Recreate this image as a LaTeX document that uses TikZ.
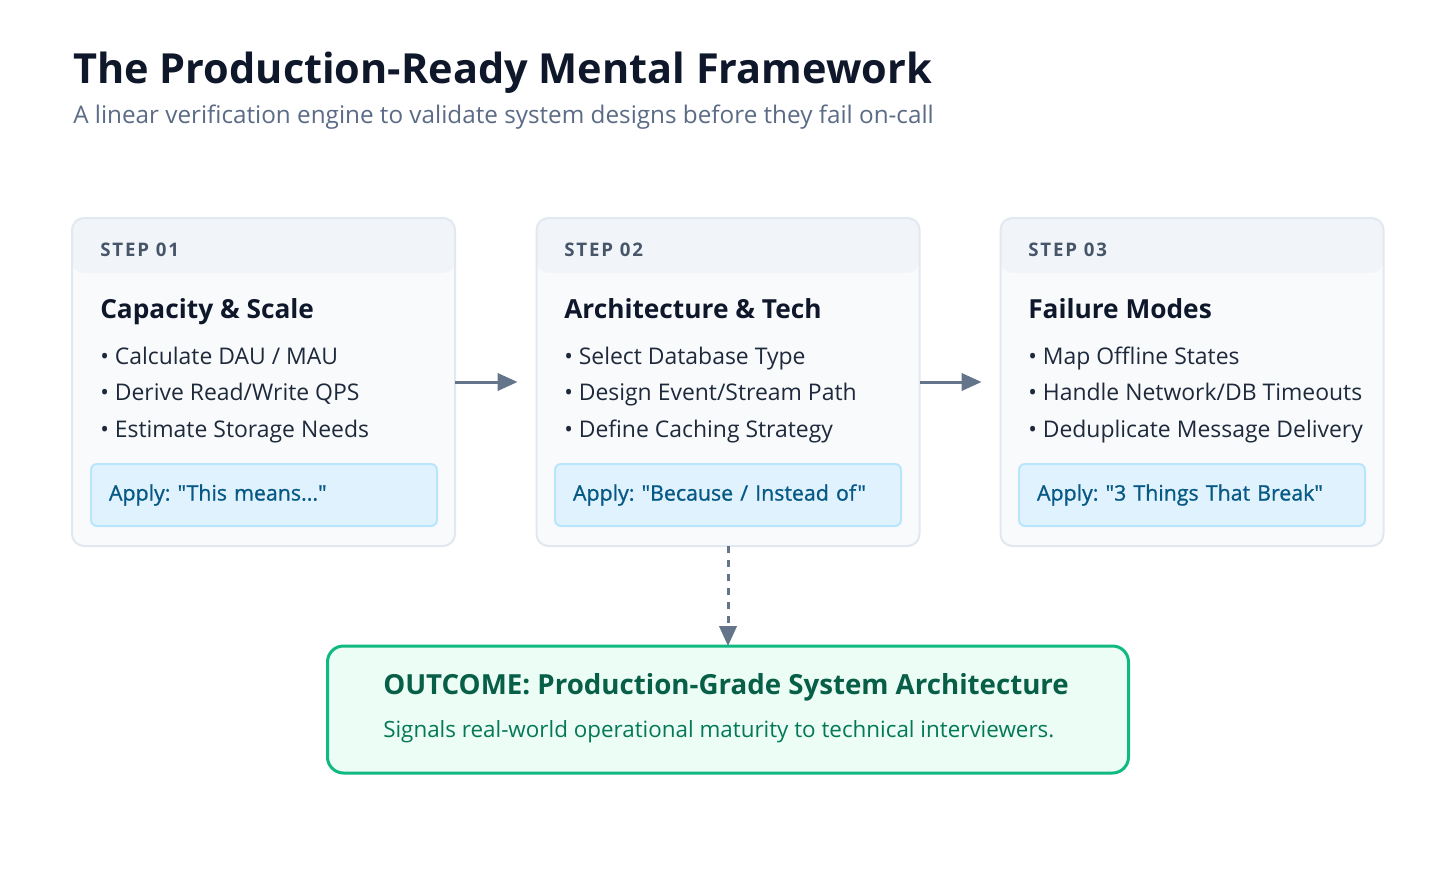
\documentclass[tikz,border=0pt]{standalone}
\usepackage{fontspec}
\setmainfont{Open Sans}[Ligatures=TeXOff]
\frenchspacing
\usetikzlibrary{arrows.meta,calc,positioning}
\definecolor{ink}{HTML}{0F172A}
\definecolor{subink}{HTML}{5B6B85}
\definecolor{steptext}{HTML}{475569}
\definecolor{bullettext}{HTML}{1E293B}
\definecolor{cardline}{HTML}{E2E8F0}
\definecolor{cardfill}{HTML}{F8FAFC}
\definecolor{headfill}{HTML}{F1F5F9}
\definecolor{applyfill}{HTML}{E0F2FE}
\definecolor{applyline}{HTML}{BAE6FD}
\definecolor{applytext}{HTML}{075985}
\definecolor{flowline}{HTML}{64748B}
\definecolor{outline}{HTML}{10B981}
\definecolor{outfill}{HTML}{ECFDF5}
\definecolor{outtext}{HTML}{065F46}
\definecolor{outsubtext}{HTML}{047857}
\begin{document}
\begin{tikzpicture}[x=0.75pt,y=-0.75pt]
        \tikzset{
          every node/.style={inner sep=0pt},
          card/.style={draw=cardline, fill=cardfill, line width=1.5pt, rounded corners=9pt,
            minimum width=287.25pt, minimum height=246pt, outer sep=0pt,
            path picture={\fill[headfill] (path picture bounding box.north west) rectangle
              ([yshift=-41.25pt]path picture bounding box.north east);}},
          stepno/.style={anchor=base west, text=steptext,
            font=\fontsize{14}{16}\selectfont\bfseries\addfontfeature{LetterSpace=10}},
          heading/.style={anchor=base west, text=ink, font=\fontsize{19.7}{24}\selectfont\bfseries},
          item/.style={anchor=base west, text=bullettext, font=\fontsize{17.2}{20}\selectfont},
          apply/.style={draw=applyline, fill=applyfill, line width=1.5pt, rounded corners=4.5pt,
            minimum width=259.5pt, minimum height=46.5pt, text width=232.5pt, align=left,
            inner xsep=13.5pt, outer sep=0pt, text=applytext,
            font=\fontsize{16}{19}\selectfont\addfontfeature{FakeBold=1}},
          flow/.style={draw=flowline, line width=2.25pt, -{Triangle[length=15pt,width=13pt]}},
        }
        \useasboundingbox[fill=white] (0,0) rectangle (1456,874);
        % title
        \node[anchor=base west, text=ink, font=\fontsize{31.1}{36}\selectfont\bfseries] (title) at (73,84)
          {The Production-Ready Mental Framework};
        \node[anchor=base west, text=subink, font=\fontsize{18.2}{22}\selectfont] (subtitle) at (73,123)
          {A linear verification engine to validate system designs before they fail on-call};
        % step 01
        \node[card] (card1) at (263.5,382) {};
        \node[stepno] (step1) at (100,256) {STEP 01};
        \node[heading] (head1) at (100,318) {Capacity \& Scale};
        \node[item] (b11) at (100,364) {• Calculate DAU / MAU};
        \node[item] (b12) at (100,400.5) {• Derive Read/Write QPS};
        \node[item] (b13) at (100,437) {• Estimate Storage Needs};
        \node[apply] (apply1) at (264,495) {Apply: "This means..."};
        % step 02
        \node[card] (card2) at (728,382) {};
        \node[stepno] (step2) at (564,256) {STEP 02};
        \node[heading] (head2) at (564,318) {Architecture \& Tech};
        \node[item] (b21) at (564,364) {• Select Database Type};
        \node[item] (b22) at (564,400.5) {• Design Event/Stream Path};
        \node[item] (b23) at (564,437) {• Define Caching Strategy};
        \node[apply] (apply2) at (728,495) {Apply: "Because / Instead of"};
        % step 03
        \node[card] (card3) at (1192,382) {};
        \node[stepno] (step3) at (1028,256) {STEP 03};
        \node[heading] (head3) at (1028,318) {Failure Modes};
        \node[item] (b31) at (1028,364) {• Map Offline States};
        \node[item] (b32) at (1028,400.5) {• Handle Network/DB Timeouts};
        \node[item] (b33) at (1028,437) {• Deduplicate Message Delivery};
        \node[apply] (apply3) at (1192,495) {Apply: "3 Things That Break"};
        % outcome
        \node[draw=outline, fill=outfill, line width=2.25pt, rounded corners=12pt, outer sep=0pt,
          minimum width=600.75pt, minimum height=95.25pt] (outcome) at (728,709.5) {};
        \node[anchor=base west, text=outtext, font=\fontsize{20.75}{24}\selectfont\bfseries] (outtitle) at (383,694)
          {OUTCOME: Production-Grade System Architecture};
        \node[anchor=base west, text=outsubtext, font=\fontsize{16.8}{20}\selectfont] (outsub) at (383,737)
          {Signals real-world operational maturity to technical interviewers.};
        % connectors
        \draw[flow, shorten >=14.25pt] (card1.east) -- (card2.west);
        \draw[flow, shorten >=14.25pt] (card2.east) -- (card3.west);
        \draw[flow, dash pattern=on 5.5pt off 5pt] (card2.south) -- (outcome.north);
\end{tikzpicture}
\end{document}
